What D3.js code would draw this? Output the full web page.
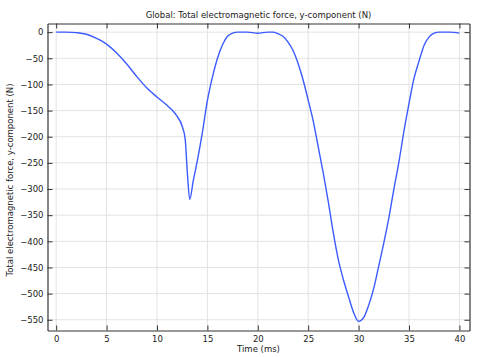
<!DOCTYPE html>
<html><head><meta charset="utf-8">
<script src="https://cdn.jsdelivr.net/npm/d3@7"></script>
<style>body{margin:0;background:#fff}svg{display:block}text{font-family:"DejaVu Sans",sans-serif;fill:#222}</style>
</head><body><svg id="c" width="478" height="357"></svg>
<script>
const title = "Global: Total electromagnetic force, y-component (N)";
const xLabel = "Time (ms)";
const yLabel = "Total electromagnetic force, y-component (N)";
const xTicks = [0,5,10,15,20,25,30,35,40];
const yTicks = [0,-50,-100,-150,-200,-250,-300,-350,-400,-450,-500,-550];
const time = [0,1,2,3,4,5,6,7,8,9,10,11,11.5,12,12.5,12.8,13,13.25,13.6,14,14.5,15,15.5,16,16.5,17,17.5,18,19,20,21,21.5,22,22.5,23,23.5,24,24.5,25,25.5,26,26.5,27,27.5,28,28.5,29,29.5,30,30.5,31,31.5,32,32.5,33,33.5,34,34.5,35,35.5,36,36.5,37,37.5,38,39,40];
const force = [0,0,-1,-4,-12,-23,-40,-61,-85,-107,-124,-140,-149,-161,-180,-205,-265,-320,-284,-246,-192,-131,-86,-50,-24,-8,-2,0,0,-2,0,0,-3,-8,-19,-35,-60,-92,-130,-170,-220,-270,-325,-385,-436,-474,-506,-536,-553,-546,-522,-490,-447,-403,-355,-300,-248,-189,-136,-88,-55,-25,-9,-2,0,0,-2];

const svg = d3.select("#c");
const L=47.5, R=469.5, T=23.5, B=330.5;
const FS = "8.5px";
const x = d3.scaleLinear().domain([-0.86,41.0]).range([L,R]);
const y = d3.scaleLinear().domain([16.5,-570.5]).range([T,B]);

const g = svg.append("g");
g.selectAll(".gx").data(xTicks).enter().append("line")
 .attr("x1",d=>x(d)).attr("x2",d=>x(d)).attr("y1",T).attr("y2",B)
 .attr("stroke","#e3e3e3").attr("stroke-width",1);
g.selectAll(".gy").data(yTicks).enter().append("line")
 .attr("y1",d=>y(d)).attr("y2",d=>y(d)).attr("x1",L).attr("x2",R)
 .attr("stroke","#e3e3e3").attr("stroke-width",1);

const line = d3.line().x((d,i)=>x(time[i])).y(d=>y(d)).curve(d3.curveMonotoneX);
g.append("path").attr("d",line(force)).attr("fill","none").attr("stroke","#3b5bff").attr("stroke-width",1.4);

const fmt = d3.format("d");
const ax = (gen, tr) => svg.append("g").attr("transform",tr).call(gen);
const axB = ax(d3.axisBottom(x).tickValues(xTicks).tickSizeInner(-5).tickSizeOuter(0).tickPadding(5).tickFormat(fmt), `translate(0,${B})`);
const axT = ax(d3.axisTop(x).tickValues(xTicks).tickSizeInner(-5).tickSizeOuter(0).tickFormat(""), `translate(0,${T})`);
const axL = ax(d3.axisLeft(y).tickValues(yTicks).tickSizeInner(-5).tickSizeOuter(0).tickPadding(4).tickFormat(fmt), `translate(${L},0)`);
const axR = ax(d3.axisRight(y).tickValues(yTicks).tickSizeInner(-5).tickSizeOuter(0).tickFormat(""), `translate(${R},0)`);
[axB,axT,axL,axR].forEach(a=>{
  a.selectAll("path").attr("stroke","#333").attr("stroke-width",1.2);
  a.selectAll("line").attr("stroke","#333");
  a.selectAll("text").style("font-size",FS).attr("fill","#222");
});

svg.append("text").attr("x",(L+R)/2).attr("y",18).attr("text-anchor","middle").style("font-size",FS).text(title);
svg.append("text").attr("x",(L+R)/2).attr("y",352).attr("text-anchor","middle").style("font-size",FS).text(xLabel);
svg.append("text").attr("transform",`translate(13,180) rotate(-90)`).attr("text-anchor","middle").style("font-size",FS).text(yLabel);
</script></body></html>
